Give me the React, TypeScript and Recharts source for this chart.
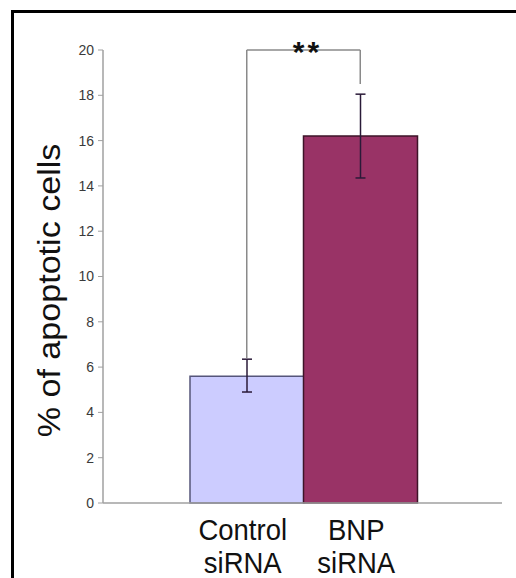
import React from "react"
import { Bar, BarChart, Cell, ErrorBar, ReferenceLine, XAxis, YAxis } from "recharts"

const categories = ["Control siRNA", "BNP siRNA"]
const apoptotic = [5.6, 16.2]
const errLow = [0.7, 1.85]
const errHigh = [0.75, 1.85]
const yTicks = [0, 2, 4, 6, 8, 10, 12, 14, 16, 18, 20]
const barFills = ["#ccccff", "#993366"]
const barStrokes = ["#55557a", "#3d1428"]

// significance bracket: top of bracket, and where each leg stops
const bracketTop = 20
const bracketLegEnds = [6.4, 18.5]

const data = categories.map((name, i) => ({
  name,
  value: apoptotic[i],
  err: [errLow[i], errHigh[i]],
}))

const FONT = "'Liberation Sans', Arial, sans-serif"

const CategoryTick = (props: any) => {
  const { x, y, payload } = props
  const lines = String(payload.value).split(" ")
  return (
    <g transform={`translate(${x},${y}) scale(1,1.1)`}>
      {lines.map((line: string, i: number) => (
        <text key={i} x={-4} y={26.5 + i * 30} textAnchor="middle" fontSize={27.5} fontFamily={FONT} fill="#111">
          {line}
        </text>
      ))}
    </g>
  )
}

const YTitle = (props: any) => {
  const { viewBox } = props
  const cx = viewBox.x + 49
  const cy = viewBox.y + viewBox.height / 2 + 14
  return (
    <text
      transform={`translate(${cx},${cy}) rotate(-90) scale(1.1,1)`}
      textAnchor="middle"
      dy="0.35em"
      fontSize={31}
      fontFamily={FONT}
      fill="#111"
    >
      % of apoptotic cells
    </text>
  )
}

const Stars = (props: any) => {
  const { viewBox } = props
  return (
    <text
      x={viewBox.x + viewBox.width / 2 + 4}
      y={viewBox.y + 12}
      textAnchor="middle"
      fontSize={30}
      fontWeight="bold"
      letterSpacing={3}
      fontFamily={FONT}
      fill="#111"
    >
      **
    </text>
  )
}

export default function App() {
  return (
    <div style={{ position: "absolute", left: 0, top: 0, width: 516, height: 578, background: "#fff", overflow: "hidden" }}>
      <div
        style={{
          position: "absolute",
          left: 11,
          top: 10,
          width: 502,
          height: 565,
          borderLeft: "3px solid #000",
          borderTop: "3px solid #000",
        }}
      />
      <div style={{ position: "absolute", left: 0, top: 0 }}>
        <BarChart width={516} height={578} data={data} margin={{ top: 50, right: 14, left: 0, bottom: 0 }} barCategoryGap={0}>
          <XAxis
            dataKey="name"
            height={75}
            padding={{ left: 87, right: 85 }}
            axisLine={{ stroke: "#a0a0a0", strokeWidth: 1.5 }}
            tickLine={false}
            tick={<CategoryTick />}
            interval={0}
          />
          <YAxis
            width={103}
            domain={[0, 20]}
            ticks={yTicks}
            interval={0}
            axisLine={{ stroke: "#a0a0a0", strokeWidth: 1.5 }}
            tickLine={{ stroke: "#a0a0a0" }}
            tickSize={5}
            tickMargin={4}
            tick={{ fontSize: 14, fontFamily: FONT, fill: "#3a3a3a" }}
            label={<YTitle />}
          />
          <Bar dataKey="value" isAnimationActive={false} strokeWidth={1.5}>
            {data.map((d, i) => (
              <Cell key={d.name} fill={barFills[i]} stroke={barStrokes[i]} />
            ))}
            <ErrorBar dataKey="err" width={5} stroke="#2a1a38" strokeWidth={1.5} isAnimationActive={false} />
          </Bar>
          <ReferenceLine
            segment={[
              { x: categories[0], y: bracketLegEnds[0] },
              { x: categories[0], y: bracketTop },
            ]}
            stroke="#8a8a8a"
            strokeWidth={1.5}
          />
          <ReferenceLine
            segment={[
              { x: categories[0], y: bracketTop },
              { x: categories[1], y: bracketTop },
            ]}
            stroke="#8a8a8a"
            strokeWidth={1.5}
            label={<Stars />}
          />
          <ReferenceLine
            segment={[
              { x: categories[1], y: bracketTop },
              { x: categories[1], y: bracketLegEnds[1] },
            ]}
            stroke="#8a8a8a"
            strokeWidth={1.5}
          />
        </BarChart>
      </div>
    </div>
  )
}
